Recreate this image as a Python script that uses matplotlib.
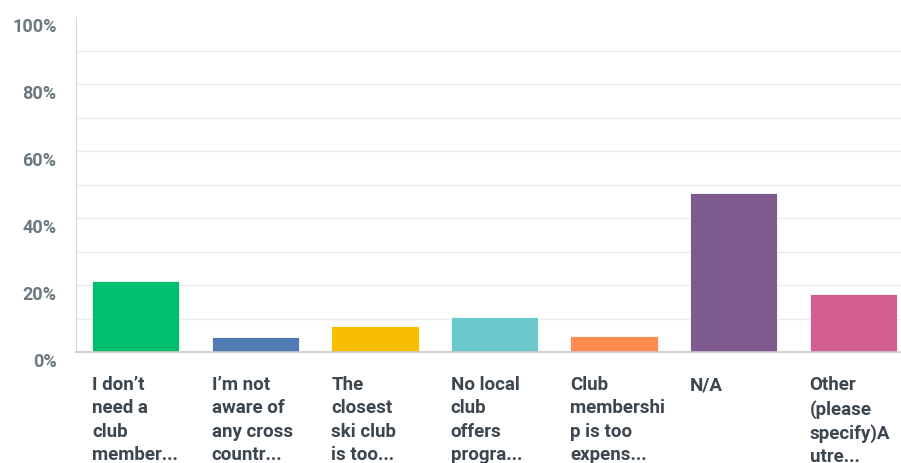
import matplotlib.pyplot as plt
import matplotlib.transforms as mtransforms

categories = [
    "I don\u2019t\nneed a\nclub\nmember...",
    "I\u2019m not\naware of\nany cross\ncountr...",
    "The\nclosest\nski club\nis too...",
    "No local\nclub\noffers\nprogra...",
    "Club\nmembershi\np is too\nexpens...",
    "N/A",
    "Other\n(please\nspecify)A\nutre...",
]
values = [21.3, 4.4, 7.9, 10.4, 4.9, 47.6, 17.4]
colors = ["#00BF6F", "#507CB6", "#F9BE00", "#6BC8CD", "#FF8B4F", "#7F5A8E", "#D25F90"]
ytick_vals = [0, 20, 40, 60, 80, 100]
ytick_labels = ["0%", "20%", "40%", "60%", "80%", "100%"]

W, H = 901, 463
fig = plt.figure(figsize=(W / 100, H / 100), dpi=100)
# axes spans a bit past the right edge of the image, like the original
ax = fig.add_axes([76 / W, (H - 352) / H, (913 - 76) / W, 335 / H])

x = list(range(len(values)))
ax.bar(x, values, width=0.73, color=colors, zorder=3, edgecolor="white", linewidth=0.6)

ax.set_xlim(-0.5, len(values) - 0.5)
ax.set_ylim(0, 100)

# light gridlines every 10% (none at the top)
for g in range(10, 100, 10):
    ax.axhline(g, color="#ebebeb", linewidth=1.0, zorder=1)

for side in ["top", "right"]:
    ax.spines[side].set_visible(False)
ax.spines["left"].set_color("#d9d9d9")
ax.spines["bottom"].set_color("#c8c8c8")
ax.spines["bottom"].set_linewidth(1.2)
ax.spines["bottom"].set_zorder(4)

ax.set_xticks([])
ax.set_yticks(ytick_vals)
ax.set_yticklabels(ytick_labels, fontsize=13, fontweight="bold", color="#6b787f",
                   family="Roboto")
ax.tick_params(axis="y", length=0, pad=14)
# labels sit a bit below their gridlines
offset = mtransforms.ScaledTranslation(0, -8 / 100, fig.dpi_scale_trans)
for lbl in ax.get_yticklabels():
    lbl.set_transform(lbl.get_transform() + offset)

trans = mtransforms.blended_transform_factory(ax.transData, ax.transAxes)
for i, cat in enumerate(categories):
    ax.text(i - 0.365, -0.072, cat, transform=trans, ha="left", va="top",
            fontsize=13.5, fontweight="bold", color="#3b4650", linespacing=1.38,
            family="Roboto", clip_on=False)

fig.savefig("out.png", dpi=100)
